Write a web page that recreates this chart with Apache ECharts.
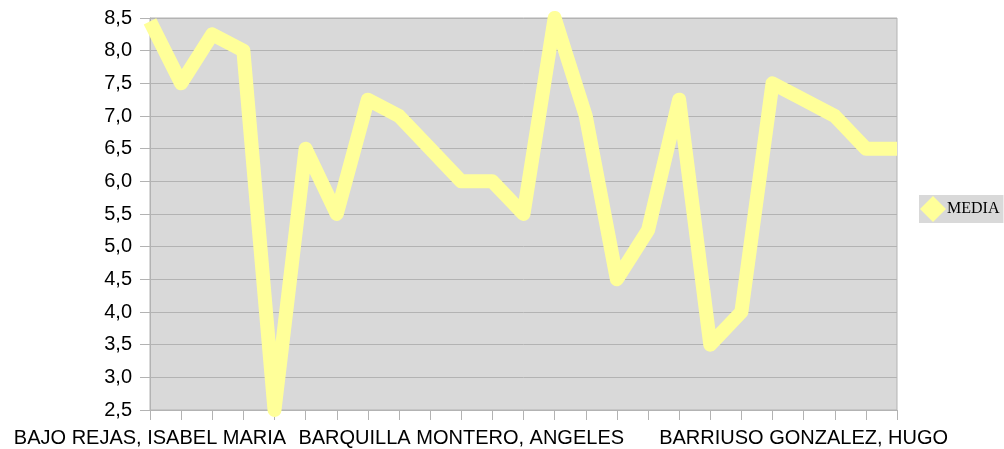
<!DOCTYPE html>
<html>
<head>
<meta charset="utf-8">
<script src="https://cdn.jsdelivr.net/npm/echarts@6/dist/echarts.min.js"></script>
<style>
  html, body { margin: 0; padding: 0; background: #fff; }
  #chart { width: 1004px; height: 449px; }
</style>
</head>
<body>
<div id="chart"></div>
<script>
// alumnos (solo se leen tres nombres en el original)
const names = [
  "BAJO REJAS, ISABEL MARIA", "", "", "", "", "", "", "", "", "",
  "BARQUILLA MONTERO, ANGELES", "", "", "", "", "", "", "", "", "", "",
  "BARRIUSO GONZALEZ, HUGO", "", "", ""
];
const media = [
  8.45, 7.5, 8.25, 8.0, 2.5, 6.5, 5.5, 7.25, 7.0, 6.5,
  6.0, 6.0, 5.5, 8.5, 7.0, 4.5, 5.25, 7.25, 3.5, 4.0,
  7.5, 7.25, 7.0, 6.5, 6.5
];
const yMin = 2.5, yMax = 8.5, yStep = 0.5;

const chart = echarts.init(document.getElementById("chart"));
const gridColor = "#b3b3b3";
const lineColor = "#ffff99";

chart.setOption({
  animation: false,
  textStyle: { fontFamily: "Liberation Sans" },
  grid: {
    left: 150,
    right: 107,
    top: 18,
    bottom: 39,
    show: true,
    backgroundColor: "#d9d9d9",
    borderColor: gridColor,
    borderWidth: 1
  },
  legend: {
    left: 919,
    top: 195,
    orient: "vertical",
    icon: "diamond",
    itemWidth: 26,
    itemHeight: 26,
    padding: [1, 4, 1, 1],
    backgroundColor: "#d9d9d9",
    textStyle: {
      fontFamily: "Liberation Serif",
      fontSize: 16,
      color: "#000",
      padding: [2, 0, 0, -4]
    },
    data: [{ name: "MEDIA", itemStyle: { color: lineColor } }]
  },
  xAxis: {
    type: "category",
    boundaryGap: false,
    data: names,
    axisLine: { lineStyle: { color: gridColor } },
    axisTick: { show: true, interval: 0, length: 10, lineStyle: { color: gridColor } },
    axisLabel: {
      interval: 0,
      margin: 18,
      fontSize: 20,
      color: "#000",
      fontFamily: "Liberation Sans"
    },
    splitLine: { show: false }
  },
  yAxis: {
    type: "value",
    min: yMin,
    max: yMax,
    interval: yStep,
    axisLine: { show: true, lineStyle: { color: gridColor } },
    axisTick: { show: true, length: 10, lineStyle: { color: gridColor } },
    axisLabel: {
      margin: 18,
      fontSize: 20,
      color: "#000",
      fontFamily: "Liberation Sans",
      formatter: v => v.toFixed(1).replace(".", ",")
    },
    splitLine: { show: true, lineStyle: { color: gridColor } }
  },
  series: [{
    name: "MEDIA",
    type: "line",
    data: media,
    showSymbol: false,
    symbol: "none",
    clip: false,
    itemStyle: { color: lineColor },
    lineStyle: { color: lineColor, width: 14, join: "round", cap: "butt" }
  }]
});
</script>
</body>
</html>
